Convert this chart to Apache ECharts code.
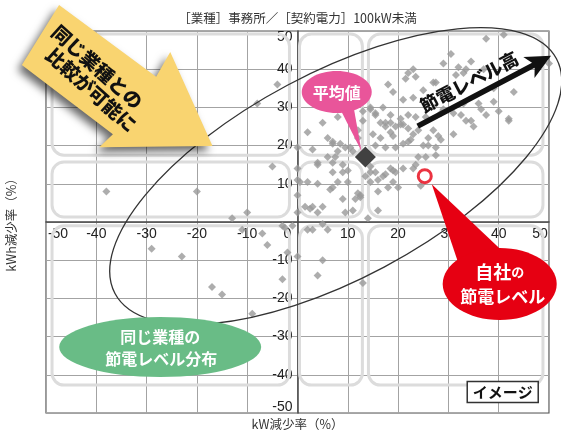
<!DOCTYPE html>
<html><head><meta charset="utf-8">
<script src="https://cdn.jsdelivr.net/npm/echarts@6/dist/echarts.min.js"></script>
<style>html,body{margin:0;padding:0;background:#fff}#c{width:561px;height:432px}</style>
</head><body><div id="c"></div>
<script>
// ---------- data ----------
const titleText = '［業種］事務所／［契約電力］100kW未満';
const xAxisName = 'kW減少率（%）';
const yAxisName = 'kWh減少率（%）';
const axisMin = -50, axisMax = 50, axisStep = 10;

const peerPoints = [
  [41,49],[37.5,48],[30.5,44],[29,41.5],[34.5,42],[32,40.5],[33,39],[31.5,38.5],[37,40],[43,34],
  [25,34.5],[27,36.5],[50,41.5],[33,31],[36.5,29.5],[32.5,28],[34.5,26.5],[40,29],[42,27],[29,29.5],
  [23,40],[22,39],[23.5,38],[21.5,37.5],[18,36],[19,34],[21,32],[23,32.5],[5,26],[8,27.5],
  [13,29],[14.5,29.5],[15.5,28.5],[17,30],[18.5,28],[20.5,27],[17.5,26],[22,28],[23.5,27.5],[13,26.5],
  [25.5,27.5],[28.5,28.5],[31,28.5],[35,25],[37.5,28],[39,31.5],[36,31],[27.5,36.5],[39,35],[33.5,40],
  [14.5,30],[15.5,28],[18.5,26],[20.5,25.5],
  [2,23.5],[6,22],[7,20.5],[8.5,20.5],[9.5,19.5],[8,18.5],[11,18.5],[12,22],[12,24],[16.5,26],
  [17.5,25],[18.5,23.5],[19.5,25],[21,25.5],[22,24.5],[15,23],[16.5,22],[19,22.5],[15.5,20],[17.5,19.5],
  [19.5,19.5],[21,20.5],[22.5,21.5],[23,23],[24,24],[4,15.5],[7,15.5],[9,15],[10,13.5],[7,13],
  [9,13],[10,10.5],[8,10.5],[4,10],[2,10.5],[14.5,13],[16,11],[17.5,12.5],[19,13.5],[21,14],
  [23.5,15],[13.5,12],[14.5,10.5],[12,7.5],[12.5,6.5],[11.5,6],[9,6],[6.5,8.5],[16,8],[18,9],
  [20,9],[24.5,9.5],[2.5,3.5],[4,2.5],[5,4],[3,4],[9.5,2.5],[16,3],[14,1],[3,19],
  [7,21],[10.5,19.5],[6,17],[7.5,17],[4,15],[0.5,10.5],[7,9],[1.5,4],[11,3],[12.5,7],
  [14.5,14.5],[15.5,13],[17,12],[18.5,14],[19.5,13],[23,14],[19,10.5],[25.5,17],[27.5,17.5],[27.5,19.5],
  [26,20],[22,21],[24,17],[27,24],[28,22.5],[28.5,21.5],[26,22],[25,20],[31,23],[33.5,26.5],
  [42,26.5],
  [0,19.5],[0,14],[0,11],[0,7],[0,2.5],[0,-9],
  [-4,36],[-8,31],[-5,14.5],[-10,2.5],[-13,1],[-38,8],[-20,8],[-11,-2],[-7,-3],[-6,-6],
  [-3,-1],[-1,-1],[-29,-7],[-23,-9],[-2,-8],[-3,-15],[-17,-17],[-15,-19],[-9,-24],
  [2,-2],[3,-2],[6,-2],[5,-0.5],[5,-10],[4,-14],[13,-16],[-2.5,-1.5]
];
const averagePoint = [13.5, 17];
const ownPoint = [25.3, 12];

const arrowText = ['同じ業種との', '比較が可能に'];
const levelText = '節電レベル高';
const averageText = '平均値';
const ownText = ['自社', 'の', '節電レベル'];
const distText = ['同じ業種の', '節電レベル分布'];
const imageText = 'イメージ';

// ---------- chart ----------
const FONT = '"Noto Sans CJK JP", sans-serif';
const NUM = '"Liberation Sans", "Noto Sans CJK JP", sans-serif';
const GRID = {left: 46, right: 12, top: 31, bottom: 19};
const chart = echarts.init(document.getElementById('c'));

function axisBase() {
  return {
    type: 'value', min: axisMin, max: axisMax, interval: axisStep,
    axisLine: {onZero: false, lineStyle: {color: '#444', width: 1.5}},
    axisTick: {show: false},
    splitLine: {lineStyle: {color: '#a3a3a3', width: 1}}
  };
}
const lbl = {fontSize: 14, fontFamily: NUM, color: '#222'};

chart.setOption({
  animation: false,
  backgroundColor: '#fff',
  grid: Object.assign({show: true, borderColor: '#555', borderWidth: 1.2}, GRID),
  xAxis: Object.assign(axisBase(), {
    axisLabel: Object.assign({}, lbl, {
      margin: 5,
      formatter: v => v === axisMin ? '{l|' + v + '}' : v === axisMax ? '{r|' + v + '}' : v === 0 ? '{z|0}' : String(v),
      rich: {
        l: Object.assign({padding: [0, 0, 0, 24]}, lbl),
        r: Object.assign({padding: [0, 18, 0, 0]}, lbl),
        z: Object.assign({padding: [0, 20, 0, 0]}, lbl)
      }
    })
  }),
  yAxis: Object.assign(axisBase(), {
    axisLabel: Object.assign({}, lbl, {
      margin: 5,
      formatter: v => v === 0 ? '' : v === axisMax ? '{t|' + v + '}' : v === axisMin ? '{b|' + v + '}' : String(v),
      rich: {
        t: Object.assign({padding: [13, 0, 0, 0]}, lbl),
        b: Object.assign({padding: [0, 0, 12, 0]}, lbl)
      }
    })
  }),
  series: [
    {type: 'scatter', data: peerPoints, symbol: 'diamond', symbolSize: 8, itemStyle: {color: '#999'}, z: 3, silent: true},
    {type: 'scatter', data: [averagePoint], symbol: 'diamond', symbolSize: 21, itemStyle: {color: '#111'}, z: 6, silent: true},
    {type: 'scatter', data: [ownPoint], symbol: 'circle', symbolSize: 13, itemStyle: {color: '#fff', borderColor: '#E60012', borderWidth: 3}, z: 6, silent: true}
  ]
});

function P(x, y) { return chart.convertToPixel({gridIndex: 0}, [x, y]); }

// move both axes (line + labels) onto the zero lines
const origin = P(0, 0);
const bottomEdge = chart.getHeight() - GRID.bottom;
chart.setOption({
  xAxis: {offset: -(bottomEdge - origin[1])},
  yAxis: {offset: -(origin[0] - GRID.left)}
});

const deg = Math.PI / 180;
const g = [];

// title centred on x = 0
g.push({type: 'text', z: 5, silent: true, x: origin[0], y: 18,
  style: {text: titleText, fill: '#333', font: '12.5px ' + FONT, textAlign: 'center', textVerticalAlign: 'middle'}});

// rounded quadrant frames (data coords)
const cols = [[-48.8, -1.6], [0.4, 12.9], [14.1, 48.8]];
const rows = [[17.5, 49.2], [1.3, 15.7], [-42.7, -1.0]];
cols.forEach(c => rows.forEach(r => {
  const a = P(c[0], r[1]), b = P(c[1], r[0]);
  g.push({type: 'rect', z: 1, silent: true,
    shape: {x: a[0], y: a[1], width: b[0] - a[0], height: b[1] - a[1], r: 12},
    style: {fill: 'none', stroke: '#dcdcdc', lineWidth: 3}});
}));

// big distribution ellipse
const ec = P(7.6, 12.0);
g.push({type: 'ellipse', z: 20, silent: true, x: ec[0], y: ec[1], rotation: 28 * deg,
  shape: {cx: 0, cy: 0, rx: 250, ry: 103}, style: {fill: 'none', stroke: '#333', lineWidth: 1.3}});

// yellow arrow
const yPts = [[-47.4, 56.8], [-28.1, 38.0], [-25.3, 44.5], [-16.9, 19.9], [-39.4, 19.6], [-36.7, 23.0], [-54.8, 41.1]].map(p => P(p[0], p[1]));
g.push({type: 'polygon', z: 30, silent: true, shape: {points: yPts},
  style: {fill: '#F9D470', shadowBlur: 9, shadowColor: 'rgba(0,0,0,0.6)', shadowOffsetX: -4, shadowOffsetY: 5}});
[[-39.8, 40.6], [-41.0, 34.6]].forEach((p, i) => {
  const q = P(p[0], p[1]);
  g.push({type: 'text', z: 31, silent: true, x: q[0], y: q[1], rotation: -42 * deg,
    style: {text: arrowText[i], fill: '#111', font: '900 19px ' + FONT, textAlign: 'center', textVerticalAlign: 'middle'}});
});

// black arrow
const as = P(23.9, 25.1), at = P(50.4, 43.5);
const L = Math.hypot(at[0] - as[0], at[1] - as[1]);
const ang = Math.atan2(-(at[1] - as[1]), at[0] - as[0]);
g.push({type: 'group', z: 32, x: as[0], y: as[1], rotation: ang, children: [
  {type: 'polygon', z: 32, silent: true, shape: {points: [[0, -2.8], [L - 20, -2.8], [L - 25, -12], [L, 0], [L - 25, 12], [L - 20, 2.8], [0, 2.8]]},
    style: {fill: '#111'}},
  {type: 'text', z: 32, silent: true, x: 66, y: -15,
    style: {text: levelText, fill: '#111', font: '900 18px ' + FONT, textAlign: 'center', textVerticalAlign: 'middle'}}
]});

// pink callout
const avgPx = P(averagePoint[0], averagePoint[1]);
const pc = P(7.8, 34.0), pb1 = P(8.4, 29.8), pb2 = P(11.2, 29.8);
g.push({type: 'polygon', z: 33, silent: true, shape: {points: [pb1, pb2, [avgPx[0] - 4, avgPx[1] - 6]]}, style: {fill: '#E9559A'}});
g.push({type: 'ellipse', z: 33, silent: true, shape: {cx: pc[0], cy: pc[1], rx: 35, ry: 21}, style: {fill: '#E9559A'}});
g.push({type: 'text', z: 34, silent: true, x: pc[0], y: pc[1] + 1,
  style: {text: averageText, fill: '#fff', font: 'bold 16px ' + FONT, textAlign: 'center', textVerticalAlign: 'middle'}});

// red callout
const ownPx = P(ownPoint[0], ownPoint[1]);
const rc = P(40.2, -16.2), rb1 = P(31.9, -10.5), rb2 = P(42.2, -9.4);
g.push({type: 'polygon', z: 33, silent: true, shape: {points: [rb1, rb2, [ownPx[0] + 7, ownPx[1] + 8]]}, style: {fill: '#E60012'}});
g.push({type: 'ellipse', z: 33, silent: true, shape: {cx: rc[0], cy: rc[1], rx: 57, ry: 36}, style: {fill: '#E60012'}});
g.push({type: 'text', z: 34, silent: true, x: rc[0], y: rc[1] - 12,
  style: {text: '{a|' + ownText[0] + '}{b|' + ownText[1] + '}', textAlign: 'center', textVerticalAlign: 'middle',
    rich: {a: {fill: '#fff', font: 'bold 18px ' + FONT}, b: {fill: '#fff', font: 'bold 13px ' + FONT}}}});
g.push({type: 'text', z: 34, silent: true, x: rc[0] + 3, y: rc[1] + 13,
  style: {text: ownText[2], fill: '#fff', font: 'bold 17px ' + FONT, textAlign: 'center', textVerticalAlign: 'middle'}});

// green callout
const gc = P(-27.3, -32.7);
g.push({type: 'ellipse', z: 33, silent: true, shape: {cx: gc[0], cy: gc[1], rx: 101, ry: 30}, style: {fill: '#69BC86'}});
g.push({type: 'text', z: 34, silent: true, x: gc[0], y: gc[1] - 10,
  style: {text: distText[0], fill: '#fff', font: 'bold 16px ' + FONT, textAlign: 'center', textVerticalAlign: 'middle'}});
g.push({type: 'text', z: 34, silent: true, x: gc[0] + 1, y: gc[1] + 12,
  style: {text: distText[1], fill: '#fff', font: 'bold 16px ' + FONT, textAlign: 'center', textVerticalAlign: 'middle'}});

// image box
const ib = P(40.8, -44.5);
g.push({type: 'rect', z: 33, silent: true, shape: {x: ib[0] - 35.5, y: ib[1] - 10.5, width: 71, height: 21},
  style: {fill: '#fff', stroke: '#333', lineWidth: 1.5}});
g.push({type: 'text', z: 34, silent: true, x: ib[0], y: ib[1] + 0.5,
  style: {text: imageText, fill: '#111', font: 'bold 15px ' + FONT, textAlign: 'center', textVerticalAlign: 'middle'}});

// axis names
g.push({type: 'text', z: 5, silent: true, x: origin[0], y: 424,
  style: {text: xAxisName, fill: '#333', font: '12.5px ' + FONT, textAlign: 'center', textVerticalAlign: 'middle'}});
g.push({type: 'text', z: 5, silent: true, x: 11, y: origin[1], rotation: 90 * deg,
  style: {text: yAxisName, fill: '#333', font: '12.5px ' + FONT, textAlign: 'center', textVerticalAlign: 'middle'}});

chart.setOption({graphic: g});
</script>
</body></html>
